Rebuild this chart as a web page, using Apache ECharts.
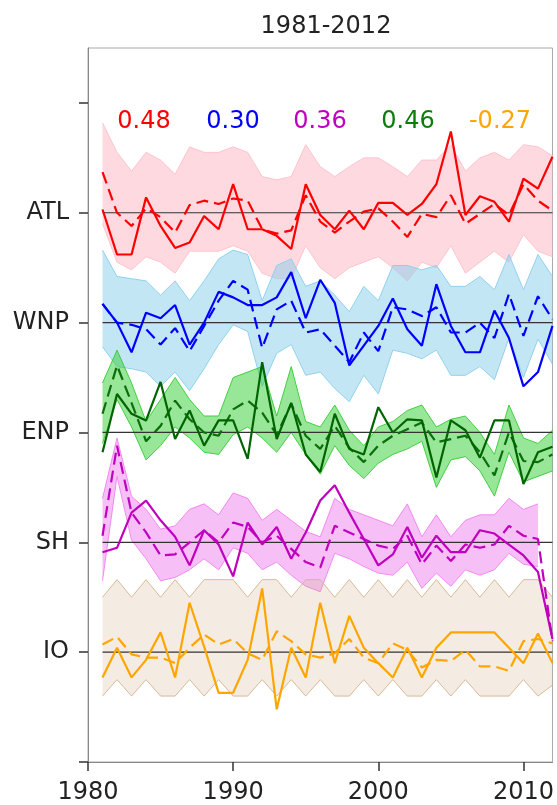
<!DOCTYPE html>
<html><head><meta charset="utf-8">
<script src="https://cdn.jsdelivr.net/npm/echarts@6/dist/echarts.min.js"></script>
<style>html,body{margin:0;padding:0;background:#fff}#c{width:557px;height:805px}</style>
</head><body><div id="c"></div>
<script>
const years = [1981,1982,1983,1984,1985,1986,1987,1988,1989,1990,1991,1992,1993,1994,1995,1996,1997,1998,1999,2000,2001,2002,2003,2004,2005,2006,2007,2008,2009,2010,2011,2012];
const regionNames = ['ATL','WNP','ENP','SH','IO'];
const regionLevels = [5,4,3,2,1];
const corrLabels = ['0.48','0.30','0.36','0.46','-0.27'];
const xTicks = [1980,1990,2000,2010];

// observed (solid) anomalies
const atlObs = [0.03,-0.38,-0.38,0.14,-0.12,-0.32,-0.27,-0.03,-0.15,0.26,-0.15,-0.15,-0.21,-0.33,0.26,-0.02,-0.15,0.02,-0.15,0.09,0.09,-0.02,0.08,0.26,0.74,-0.02,0.15,0.10,-0.08,0.31,0.22,0.51];
const wnpObs = [0.17,0.0,-0.27,0.09,0.04,0.16,-0.20,0.0,0.28,0.23,0.16,0.16,0.23,0.46,0.04,0.39,0.18,-0.39,-0.21,-0.03,0.22,-0.06,-0.21,0.35,-0.03,-0.27,-0.27,0.11,-0.14,-0.58,-0.45,-0.03];
const enpObs = [-0.18,0.35,0.17,0.11,0.46,-0.06,0.20,-0.12,0.11,0.11,-0.24,0.64,-0.06,0.27,-0.20,-0.36,0.17,-0.15,-0.20,0.23,0.0,0.12,0.11,-0.41,0.11,0.02,-0.23,0.11,0.11,-0.47,-0.18,-0.13];
const shObs = [-0.09,-0.05,0.27,0.38,0.20,0.05,-0.21,0.11,-0.02,-0.31,0.18,-0.02,0.14,-0.15,0.09,0.38,0.52,0.27,0.03,-0.21,-0.11,0.14,-0.14,0.06,-0.09,-0.09,0.11,0.08,-0.02,-0.12,-0.27,-0.88];
const ioObs = [-0.23,0.04,-0.23,-0.07,0.18,-0.23,0.45,0.05,-0.37,-0.37,-0.07,0.58,-0.52,0.04,-0.23,0.45,-0.10,0.33,0.04,-0.10,-0.23,0.04,-0.23,0.04,0.18,0.18,0.18,0.18,0.04,-0.10,0.17,-0.10];

// ensemble mean (dashed)
const atlMean = [0.37,0.0,-0.12,0.04,-0.04,-0.18,0.07,0.11,0.08,0.13,0.11,-0.15,-0.19,-0.16,0.16,-0.08,-0.18,-0.08,0.01,0.04,-0.08,-0.22,-0.01,-0.04,0.16,-0.10,-0.01,0.08,-0.02,0.26,0.11,0.02];
const wnpMean = [0.17,0.0,-0.02,-0.06,-0.20,-0.05,-0.26,-0.03,0.20,0.38,0.30,-0.23,0.12,0.20,-0.09,-0.06,-0.21,-0.36,-0.09,-0.26,0.14,0.12,0.06,0.14,-0.09,-0.09,0.0,-0.14,0.26,-0.12,0.24,0.03];
const enpMean = [0.17,0.61,0.27,-0.08,0.06,0.29,0.12,0.0,-0.03,0.21,0.29,0.18,-0.02,0.26,-0.03,-0.15,0.06,-0.14,-0.27,-0.12,-0.03,0.03,0.09,-0.09,-0.06,-0.03,-0.18,-0.39,0.0,-0.26,-0.27,-0.20];
const shMean = [0.06,0.88,0.27,0.09,-0.12,-0.11,0.0,0.11,0.0,0.18,0.14,0.0,0.06,-0.06,-0.18,-0.23,0.15,0.09,0.03,-0.03,-0.06,0.06,-0.20,-0.03,-0.17,-0.02,-0.05,-0.02,0.15,0.06,0.03,-0.9];
const ioMean = [0.07,0.14,-0.02,-0.05,-0.05,-0.10,0.04,0.16,0.07,0.12,-0.01,-0.07,0.19,0.10,-0.02,-0.05,-0.01,0.12,-0.05,-0.10,0.08,0.02,-0.14,-0.07,-0.08,0.02,-0.13,-0.13,-0.17,0.10,0.12,0.08];

// ensemble envelope (upper / lower)
const atlHi = [0.82,0.55,0.38,0.55,0.48,0.35,0.6,0.55,0.55,0.6,0.55,0.33,0.3,0.33,0.62,0.42,0.33,0.42,0.5,0.5,0.42,0.33,0.48,0.48,0.62,0.38,0.5,0.55,0.48,0.62,0.6,0.52];
const atlLo = [-0.1,-0.45,-0.52,-0.4,-0.45,-0.55,-0.35,-0.35,-0.35,-0.3,-0.35,-0.55,-0.6,-0.6,-0.3,-0.5,-0.6,-0.5,-0.45,-0.4,-0.5,-0.62,-0.45,-0.5,-0.3,-0.55,-0.45,-0.35,-0.45,-0.2,-0.35,-0.4];
const wnpHi = [0.66,0.42,0.4,0.38,0.25,0.38,0.2,0.38,0.58,0.66,0.62,0.2,0.52,0.58,0.33,0.38,0.25,0.1,0.33,0.2,0.52,0.52,0.48,0.52,0.33,0.33,0.42,0.3,0.62,0.3,0.62,0.42];
const wnpLo = [-0.22,-0.4,-0.42,-0.45,-0.58,-0.45,-0.62,-0.42,-0.2,-0.02,-0.08,-0.58,-0.28,-0.2,-0.48,-0.45,-0.6,-0.72,-0.48,-0.65,-0.25,-0.28,-0.33,-0.25,-0.48,-0.48,-0.4,-0.52,-0.14,-0.5,-0.15,-0.38];
const enpHi = [0.45,0.75,0.45,0.1,0.3,0.5,0.3,0.15,0.15,0.5,0.55,0.6,0.15,0.6,0.1,0.05,0.25,0.02,-0.12,0.05,0.1,0.2,0.25,0.05,0.12,0.15,0.0,-0.2,0.25,-0.05,-0.1,0.02];
const enpLo = [-0.1,0.3,0.05,-0.25,-0.12,0.05,-0.05,-0.18,-0.2,-0.02,0.05,-0.05,-0.18,0.0,-0.2,-0.38,-0.12,-0.3,-0.42,-0.28,-0.2,-0.15,-0.08,-0.5,-0.25,-0.22,-0.35,-0.58,-0.18,-0.45,-0.4,-0.35];
const shHi = [0.4,0.95,0.42,0.3,0.12,0.15,0.3,0.35,0.25,0.45,0.4,0.2,0.3,0.2,0.1,0.05,0.4,0.3,0.25,0.2,0.15,0.35,0.05,0.25,0.05,0.2,0.25,0.25,0.4,0.3,0.35,null];
const shLo = [-0.35,0.6,0.02,-0.15,-0.35,-0.32,-0.25,-0.15,-0.25,-0.05,-0.1,-0.25,-0.18,-0.3,-0.4,-0.45,-0.1,-0.15,-0.22,-0.28,-0.3,-0.18,-0.42,-0.28,-0.4,-0.25,-0.3,-0.25,-0.1,-0.2,-0.22,null];
const ioHi = [0.5,0.66,0.5,0.66,0.5,0.66,0.5,0.66,0.66,0.66,0.5,0.66,0.66,0.5,0.66,0.66,0.5,0.66,0.5,0.66,0.5,0.66,0.5,0.66,0.5,0.66,0.5,0.66,0.5,0.66,0.66,0.5];
const ioLo = [-0.4,-0.25,-0.4,-0.25,-0.4,-0.4,-0.25,-0.4,-0.25,-0.4,-0.4,-0.25,-0.4,-0.25,-0.4,-0.25,-0.4,-0.4,-0.25,-0.4,-0.25,-0.4,-0.4,-0.25,-0.4,-0.25,-0.4,-0.4,-0.4,-0.25,-0.4,-0.3];

const obsColors = ['#ff0000','#0000ff','#006400','#bf00bf','#ffa500'];
const meanColors = ['#ff0000','#0000ff','#0b6e0b','#bf00bf','#ffa500'];
const bandColors = ['#ffc0cb','#87ceeb','#32cd32','#ee82ee','#d2b48c'];
const bandOpacity = [0.6,0.5,0.5,0.5,0.25];
const labelColors = ['#ff0000','#0000ff','#bf00bf','#0a7d0a','#ffa500'];

const obs = [atlObs,wnpObs,enpObs,shObs,ioObs];
const means = [atlMean,wnpMean,enpMean,shMean,ioMean];
const his = [atlHi,wnpHi,enpHi,shHi,ioHi];
const los = [atlLo,wnpLo,enpLo,shLo,ioLo];

const FONT = 'DejaVu Sans';
const toSeriesData = (arr, lvl) => years.map((y,i) => arr[i] == null ? [y, null] : [y, lvl + arr[i]]);

const series = [];
// ensemble bands
series.push({
  type: 'custom',
  clip: true,
  silent: true,
  z: 1,
  data: regionLevels.map((l, k) => [years[0], l, k]),
  renderItem: function (params, api) {
    const k = params.dataIndex;
    const lvl = regionLevels[k];
    const up = [], dn = [];
    years.forEach((y, i) => {
      if (his[k][i] != null) up.push(api.coord([y, lvl + his[k][i]]));
      if (los[k][i] != null) dn.push(api.coord([y, lvl + los[k][i]]));
    });
    const poly = up.concat(dn.slice().reverse());
    return {
      type: 'group',
      children: [
        {type: 'polygon', shape: {points: poly}, style: {fill: bandColors[k], opacity: bandOpacity[k]}},
        {type: 'polyline', shape: {points: up}, style: {stroke: bandColors[k], lineWidth: 1, fill: null, opacity: 0.9}},
        {type: 'polyline', shape: {points: dn}, style: {stroke: bandColors[k], lineWidth: 1, fill: null, opacity: 0.9}}
      ]
    };
  }
});
// reference lines
regionLevels.forEach((l) => {
  series.push({
    type: 'line', z: 2, silent: true, symbol: 'none',
    data: [[years[0], l], [years[years.length-1], l]],
    lineStyle: {color: '#333', width: 1.2}
  });
});
// ensemble means (dashed)
regionLevels.forEach((l, k) => {
  series.push({
    type: 'line', z: 3, silent: true, symbol: 'none',
    data: toSeriesData(means[k], l),
    lineStyle: {color: meanColors[k], width: 2.2, type: [12, 6]}
  });
});
// observations (solid)
regionLevels.forEach((l, k) => {
  series.push({
    type: 'line', z: 4, silent: true, symbol: 'none',
    data: toSeriesData(obs[k], l),
    lineStyle: {color: obsColors[k], width: 2.2}
  });
});

const chart = echarts.init(document.getElementById('c'), null, {renderer: 'canvas'});
const labelPos = [144, 233, 320, 408, 500];
chart.setOption({
  animation: false,
  backgroundColor: '#fff',
  textStyle: {fontFamily: FONT},
  title: {
    text: '1981-2012', left: 321, top: 10, textAlign: 'center',
    textStyle: {fontFamily: FONT, fontSize: 24, fontWeight: 'normal', color: '#222'}
  },
  grid: {left: 88, right: 2, top: 48, bottom: 42, show: true, borderColor: '#aaa', borderWidth: 1},
  xAxis: {
    type: 'value', min: 1980, max: 2012,
    axisLine: {show: true, lineStyle: {color: '#888', width: 1}},
    axisTick: {show: true, customValues: xTicks, length: 9, lineStyle: {color: '#333', width: 1.5}},
    axisLabel: {customValues: xTicks, fontSize: 24, color: '#222', fontFamily: FONT, margin: 19,
      formatter: (v) => String(v)},
    splitLine: {show: false}
  },
  yAxis: {
    type: 'value', min: 0, max: 6.5,
    axisLine: {show: true, lineStyle: {color: '#888', width: 1}},
    axisTick: {show: true, customValues: [0,1,2,3,4,5,6], length: 9, lineStyle: {color: '#333', width: 1.5}},
    axisLabel: {
      customValues: regionLevels, fontSize: 24, color: '#222', fontFamily: FONT, margin: 19,
      formatter: (v) => { const k = regionLevels.indexOf(Math.round(v)); return k >= 0 ? regionNames[k] : ''; }
    },
    splitLine: {show: false}
  },
  graphic: corrLabels.map((t, k) => ({
    type: 'text', x: labelPos[k], y: 122, z: 100,
    style: {text: t, fill: labelColors[k], fontSize: 24, fontFamily: FONT, align: 'center', verticalAlign: 'middle'}
  })),
  series: series
});
</script></body></html>
